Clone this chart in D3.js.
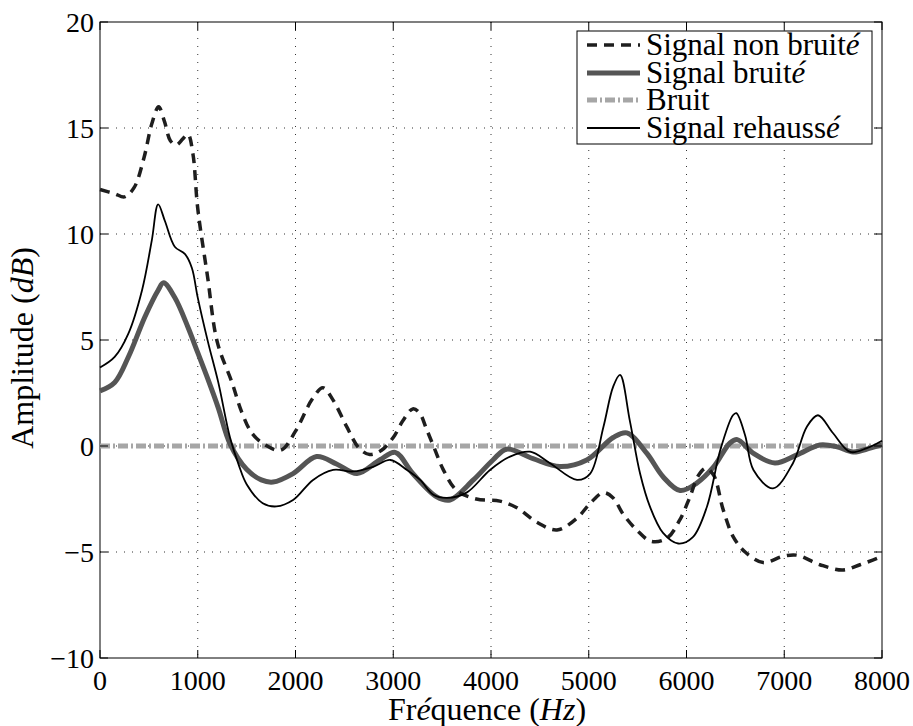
<!DOCTYPE html>
<html>
<head>
<meta charset="utf-8">
<script src="https://cdn.jsdelivr.net/npm/d3@7"></script>
</head>
<body style="margin:0">
<div id="chart"></div>
<script>
// Spectre : signal propre, signal bruité, bruit et signal rehaussé

// ==========================================================
// Data (frequency in Hz, amplitude in dB)

var xTicks = [0, 1000, 2000, 3000, 4000, 5000, 6000, 7000, 8000];
var yTicks = [-10, -5, 0, 5, 10, 15, 20];

var signalPropre = [
  [0, 12.1], [150, 11.9], [250, 11.75], [350, 12.2], [450, 13.6], [530, 15.2],
  [600, 16.0], [660, 15.3], [720, 14.4], [780, 14.2], [850, 14.5], [900, 14.7],
  [950, 13.8], [1000, 11.2], [1100, 8.0], [1200, 4.9], [1350, 3.0], [1450, 1.6],
  [1555, 0.6], [1690, 0.05], [1850, -0.2], [2000, 0.7], [2170, 2.2], [2280, 2.75],
  [2380, 2.2], [2525, 0.9], [2650, -0.1], [2760, -0.4], [2880, -0.2], [3000, 0.4],
  [3100, 1.2], [3200, 1.75], [3270, 1.55], [3340, 0.8], [3420, -0.1], [3510, -1.1],
  [3650, -2.1], [3850, -2.5], [4090, -2.6], [4260, -2.9], [4470, -3.6], [4675, -3.96],
  [4880, -3.4], [5015, -2.7], [5150, -2.2], [5250, -2.45], [5350, -3.2], [5490, -3.96],
  [5640, -4.5], [5800, -4.35], [5930, -3.5], [6035, -2.4], [6120, -1.4], [6200, -1.05],
  [6280, -1.4], [6375, -3.0], [6480, -4.3], [6600, -5.0], [6785, -5.5], [6990, -5.2],
  [7130, -5.15], [7365, -5.6], [7600, -5.85], [7775, -5.6], [7950, -5.3], [8000, -5.2]
];

var signalBruite = [
  [0, 2.6], [150, 3.0], [290, 4.2], [460, 6.1], [595, 7.35], [650, 7.7], [765, 7.0],
  [900, 5.6], [1000, 4.4], [1100, 3.2], [1210, 1.8], [1330, 0.1], [1500, -1.1],
  [1650, -1.6], [1770, -1.7], [1975, -1.3], [2215, -0.5], [2420, -0.85], [2630, -1.3],
  [2865, -0.65], [3020, -0.3], [3200, -1.3], [3445, -2.4], [3580, -2.55], [3820, -1.6],
  [4020, -0.66], [4160, -0.15], [4430, -0.6], [4705, -0.97], [4980, -0.66], [5250, 0.4],
  [5390, 0.62], [5595, -0.35], [5760, -1.45], [5935, -2.1], [6105, -1.75], [6275, -1.0],
  [6445, 0.14], [6520, 0.3], [6685, -0.35], [6905, -0.8], [7130, -0.42], [7365, 0.05],
  [7540, -0.04], [7705, -0.28], [7880, -0.1], [8000, 0.05]
];

var bruit = [[0, 0], [8000, 0]];

var signalRehausse = [
  [0, 3.7], [150, 4.2], [290, 5.3], [430, 7.35], [530, 9.7], [595, 11.4], [665, 10.6],
  [765, 9.4], [870, 9.05], [940, 8.4], [1000, 7.0], [1105, 4.9], [1210, 3.0], [1330, 0.4],
  [1420, -0.9], [1500, -1.8], [1665, -2.7], [1805, -2.85], [1975, -2.55], [2180, -1.6],
  [2385, -1.13], [2590, -1.2], [2795, -0.98], [2970, -0.66], [3140, -1.13], [3275, -1.6],
  [3410, -2.3], [3550, -2.45], [3750, -2.2], [3990, -1.13], [4195, -0.5], [4400, -0.27],
  [4600, -0.8], [4880, -1.6], [5015, -1.3], [5150, 0.9], [5250, 2.8], [5320, 3.35],
  [5420, 1.2], [5525, -1.3], [5625, -2.85], [5760, -4.1], [5915, -4.6], [6065, -4.3],
  [6210, -2.85], [6345, -0.2], [6475, 1.45], [6510, 1.55], [6600, 0.5], [6685, -1.13],
  [6885, -2.0], [7090, -0.8], [7230, 0.9], [7345, 1.45], [7500, 0.6], [7675, -0.28],
  [7845, -0.1], [8000, 0.25]
];

var legendLabels = ["Signal non bruit", "Signal bruit", "Bruit", "Signal rehauss"];

// ==========================================================
// Set margins

var svgWidth = 913;
var svgHeight = 726;

var margin = { top: 22, right: 31, bottom: 68, left: 100 };

var width = svgWidth - margin.left - margin.right;
var height = svgHeight - margin.top - margin.bottom;

var FONT = "'Liberation Serif', Tinos, 'Times New Roman', serif";

var svg = d3.select("#chart")
  .append("svg")
  .attr("width", svgWidth)
  .attr("height", svgHeight)
  .style("font-family", FONT);

var chartGroup = svg.append("g")
  .attr("transform", `translate(${margin.left}, ${margin.top})`);

// scales
var xScale = d3.scaleLinear().domain([0, 8000]).range([0, width]);
var yScale = d3.scaleLinear().domain([-10, 20]).range([height, 0]);

// grid (dotted)
chartGroup.append("g")
  .selectAll("line")
  .data(xTicks.slice(1, -1))
  .enter()
  .append("line")
  .attr("x1", d => xScale(d)).attr("x2", d => xScale(d))
  .attr("y1", 0).attr("y2", height)
  .attr("stroke", "#333")
  .attr("stroke-dasharray", "1,7");

chartGroup.append("g")
  .selectAll("line")
  .data(yTicks.slice(1, -1))
  .enter()
  .append("line")
  .attr("x1", 0).attr("x2", width)
  .attr("y1", d => yScale(d)).attr("y2", d => yScale(d))
  .attr("stroke", "#333")
  .attr("stroke-dasharray", "1,7");

// box
chartGroup.append("rect")
  .attr("width", width).attr("height", height)
  .attr("fill", "none").attr("stroke", "#000").attr("stroke-width", 1);

// curves
var line = d3.line()
  .x(d => xScale(d[0]))
  .y(d => yScale(d[1]))
  .curve(d3.curveCatmullRom.alpha(0.5));

var styles = [
  { data: signalPropre, stroke: "#1e1e1e", width: 3.5, dash: "10,7" },
  { data: signalBruite, stroke: "#555", width: 5, dash: null },
  { data: bruit, stroke: "#a6a6a6", width: 5, dash: "10,3,2,3" },
  { data: signalRehausse, stroke: "#000", width: 1.8, dash: null }
];

// draw order: bruit, bruité, propre, rehaussé
[2, 1, 0, 3].forEach(function(i) {
  var s = styles[i];
  chartGroup.append("path")
    .datum(s.data)
    .attr("d", line)
    .attr("fill", "none")
    .attr("stroke", s.stroke)
    .attr("stroke-width", s.width)
    .attr("stroke-dasharray", s.dash);
});

// ticks inward on all four sides
var tickLen = 8;
var tickG = chartGroup.append("g").attr("stroke", "#000");
xTicks.forEach(function(t) {
  tickG.append("line").attr("x1", xScale(t)).attr("x2", xScale(t)).attr("y1", height).attr("y2", height - tickLen);
  tickG.append("line").attr("x1", xScale(t)).attr("x2", xScale(t)).attr("y1", 0).attr("y2", tickLen);
});
yTicks.forEach(function(t) {
  tickG.append("line").attr("y1", yScale(t)).attr("y2", yScale(t)).attr("x1", 0).attr("x2", tickLen);
  tickG.append("line").attr("y1", yScale(t)).attr("y2", yScale(t)).attr("x1", width).attr("x2", width - tickLen);
});

// tick labels
chartGroup.append("g")
  .selectAll("text")
  .data(xTicks)
  .enter()
  .append("text")
  .attr("x", d => xScale(d))
  .attr("y", height + 32)
  .attr("text-anchor", "middle")
  .attr("font-size", "28px")
  .text(d => d);

chartGroup.append("g")
  .selectAll("text")
  .data(yTicks)
  .enter()
  .append("text")
  .attr("x", -6)
  .attr("y", d => yScale(d) + 10)
  .attr("text-anchor", "end")
  .attr("font-size", "28px")
  .text(d => d < 0 ? "\u2212" + Math.abs(d) : d);

// axis labels
var xl = svg.append("text")
  .attr("x", margin.left + width / 2 - 4)
  .attr("y", 720)
  .attr("text-anchor", "middle")
  .attr("font-size", "32px");
xl.append("tspan").text("Fr");
xl.append("tspan").attr("font-style", "italic").text("é");
xl.append("tspan").text("quence (");
xl.append("tspan").attr("font-style", "italic").text("Hz");
xl.append("tspan").text(")");

var yl = svg.append("text")
  .attr("transform", `translate(33, ${margin.top + height / 2 + 8}) rotate(-90)`)
  .attr("text-anchor", "middle")
  .attr("font-size", "32px");
yl.append("tspan").text("Amplitude (");
yl.append("tspan").attr("font-style", "italic").text("dB");
yl.append("tspan").text(")");

// legend
var legend = svg.append("g").attr("transform", "translate(577, 31)");
legend.append("rect")
  .attr("width", 295).attr("height", 113)
  .attr("fill", "#fff").attr("stroke", "#000").attr("stroke-width", 1);

var rowY = [14, 42, 69, 97];
styles.forEach(function(s, i) {
  legend.append("line")
    .attr("x1", 10).attr("x2", 63)
    .attr("y1", rowY[i]).attr("y2", rowY[i])
    .attr("stroke", s.stroke)
    .attr("stroke-width", s.width)
    .attr("stroke-dasharray", s.dash);
  var t = legend.append("text")
    .attr("x", 69)
    .attr("y", rowY[i] + 10)
    .attr("font-size", "31px")
    .text(legendLabels[i]);
  if (i !== 2) {
    t.append("tspan").attr("font-style", "italic").text("é");
  }
});

svg.selectAll("text, tspan").style("font-family", FONT).attr("fill", "#000");
</script>
</body>
</html>
